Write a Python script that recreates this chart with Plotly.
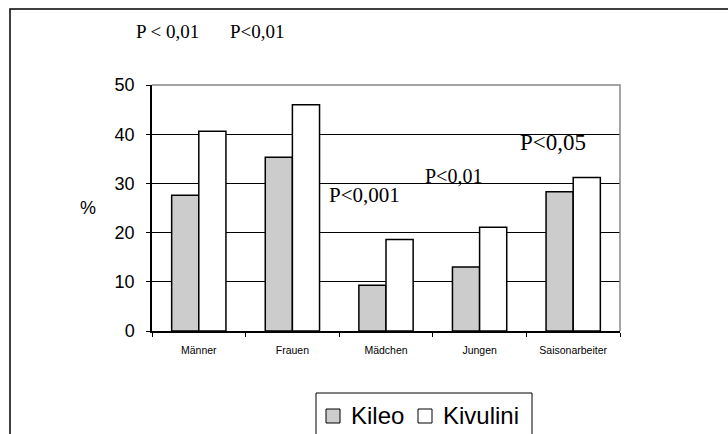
import plotly.graph_objects as go

categories = ["Männer", "Frauen", "Mädchen", "Jungen", "Saisonarbeiter"]
kileo = [27.6, 35.3, 9.3, 13.0, 28.3]
kivulini = [40.6, 46.0, 18.6, 21.1, 31.2]
series_names = ["Kileo", "Kivulini"]
series_colors = ["#cccccc", "white"]
y_ticks = [0, 10, 20, 30, 40, 50]
p_labels = ["P < 0,01", "P<0,01", "P<0,001", "P<0,01", "P<0,05"]

W, H = 728, 434
L, R, T, B = 152, 108, 85, 103
pw, ph = W - L - R, H - T - B

def px_x(p):
    return (p - L) / pw

def px_y(p):
    return (H - B - p) / ph

fig = go.Figure()
for name, vals, col in zip(series_names, [kileo, kivulini], series_colors):
    fig.add_trace(go.Bar(x=categories, y=vals, name=name,
                         marker=dict(color=col, line=dict(color="black", width=1.5))))

fig.update_layout(
    width=W, height=H,
    margin=dict(l=L, r=R, t=T, b=B),
    paper_bgcolor="white", plot_bgcolor="white",
    barmode="group", bargap=0.42, bargroupgap=0,
    font=dict(family="Liberation Sans, Arial", color="black"),
    showlegend=False,
)
fig.update_xaxes(showline=True, linecolor="black", linewidth=1.5,
                 ticks="outside", tickson="boundaries", ticklen=4, tickcolor="black",
                 tickfont=dict(size=10.5), ticklabelstandoff=9, showgrid=False)
fig.update_yaxes(range=[0, 50], tickvals=y_ticks, showline=True, linecolor="black", linewidth=1.5,
                 ticks="outside", ticklen=4, tickcolor="black", tickfont=dict(size=18),
                 ticklabelstandoff=8,
                 showgrid=True, gridcolor="black", gridwidth=1, zeroline=False)

# grey frame top and right
fig.add_shape(type="path", xref="paper", yref="paper",
              path="M 0 1 L 1 1 L 1 0", line=dict(color="#888888", width=1.5), layer="above")
# outer border (left and top)
fig.add_shape(type="path", xref="paper", yref="paper",
              path=f"M {px_x(10)} {px_y(440)} L {px_x(10)} {px_y(9)} L {px_x(740)} {px_y(9)}",
              line=dict(color="black", width=1.5))

# y-axis label
fig.add_annotation(text="%", xref="paper", yref="paper", x=px_x(88), y=px_y(208),
                   xanchor="center", yanchor="middle", showarrow=False,
                   font=dict(family="Liberation Sans, Arial", size=18, color="black"))

# legend box (drawn as shapes + text)
fig.add_shape(type="rect", xref="paper", yref="paper",
              x0=px_x(316), x1=px_x(532), y0=px_y(445), y1=px_y(393),
              line=dict(color="black", width=1), fillcolor="white")
leg_items = [(326, 349), (418, 441)]
for (sx, tx), name, col in zip(leg_items, series_names, series_colors):
    fig.add_shape(type="rect", xref="paper", yref="paper",
                  x0=px_x(sx), x1=px_x(sx + 14), y0=px_y(423), y1=px_y(409),
                  line=dict(color="black", width=1), fillcolor=col)
    fig.add_annotation(text=name, xref="paper", yref="paper", x=px_x(tx), y=px_y(415),
                       xanchor="left", yanchor="middle", showarrow=False,
                       font=dict(family="Liberation Sans, Arial", size=24, color="black"))

ann = [
    (p_labels[0], 134, 31, 19),
    (p_labels[1], 228, 31, 19),
    (p_labels[2], 327, 195, 21),
    (p_labels[3], 423, 176, 20),
    (p_labels[4], 518, 142, 23),
]
for text, xp, yp, sz in ann:
    fig.add_annotation(text=text, xref="paper", yref="paper", x=px_x(xp), y=px_y(yp),
                       xanchor="left", yanchor="middle", showarrow=False,
                       font=dict(family="Liberation Serif, Times New Roman", size=sz, color="black"))

fig.write_html("out.html", config={"displayModeBar": False},
               post_script="document.body.style.margin='0';document.body.style.overflow='hidden';")
